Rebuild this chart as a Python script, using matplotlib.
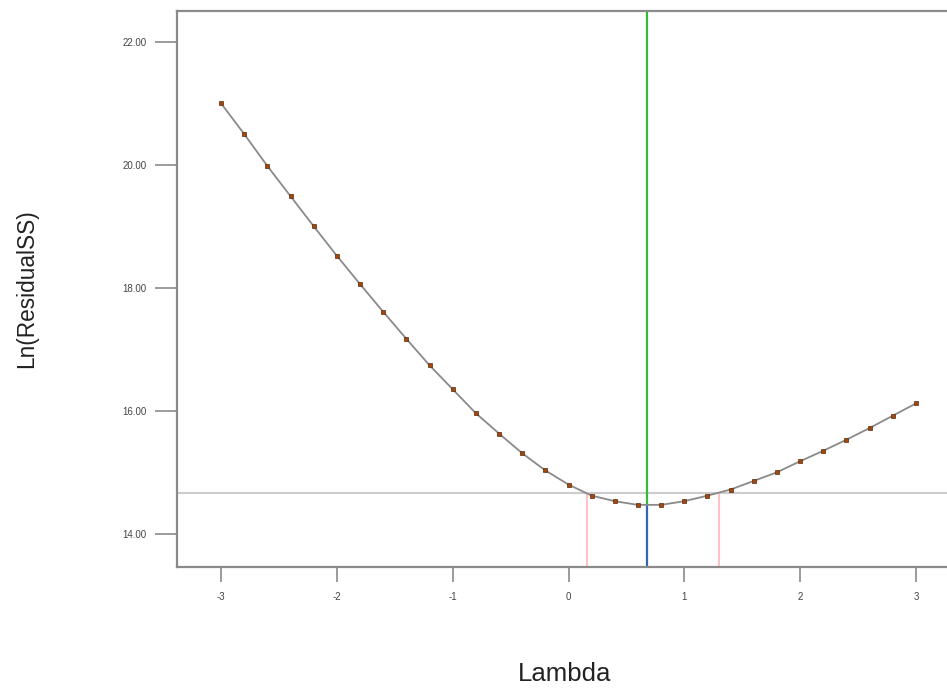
import matplotlib
matplotlib.use("Agg")
import matplotlib.pyplot as plt

# Data
lambdas = [-3.0, -2.8, -2.6, -2.4, -2.2, -2.0, -1.8, -1.6, -1.4, -1.2, -1.0,
           -0.8, -0.6, -0.4, -0.2, 0.0, 0.2, 0.4, 0.6, 0.8, 1.0,
           1.2, 1.4, 1.6, 1.8, 2.0, 2.2, 2.4, 2.6, 2.8, 3.0]
ln_rss = [21.00, 20.50, 19.98, 19.49, 19.00, 18.52, 18.06, 17.61, 17.17, 16.74, 16.35,
          15.96, 15.63, 15.31, 15.03, 14.80, 14.62, 14.53, 14.47, 14.47, 14.53,
          14.62, 14.72, 14.86, 15.00, 15.18, 15.35, 15.53, 15.72, 15.92, 16.12]
best_lambda = 0.68
ci_low, ci_high = 0.16, 1.30
ci_level = 14.67
min_level = 14.47
x_ticks = [-3, -2, -1, 0, 1, 2, 3]
y_ticks = [14, 16, 18, 20, 22]

plt.rcParams['font.family'] = ['Liberation Sans', 'DejaVu Sans']

fig = plt.figure(figsize=(9.47, 6.89), dpi=100)
ax = fig.add_axes([177/947, 1 - 567/689, (960 - 177)/947, (567 - 11)/689])

ax.set_xlim(-3.38, 3.38)
ax.set_ylim(13.46, 22.50)

ax.axhline(ci_level, color='#cccccc', lw=1.5, zorder=1)
ax.plot([ci_low, ci_low], [13.46, ci_level], color='#ffc0c8', lw=1.5, zorder=1)
ax.plot([ci_high, ci_high], [13.46, ci_level], color='#ffc0c8', lw=1.5, zorder=1)
ax.plot([best_lambda, best_lambda], [min_level, 22.5], color='#33bb33', lw=1.6, zorder=2)
ax.plot([best_lambda, best_lambda], [13.46, min_level], color='#3366bb', lw=1.6, zorder=2)

ax.plot(lambdas, ln_rss, color='#8a8a8a', lw=1.3, zorder=3,
        marker='s', markersize=3.0, markerfacecolor='#a0480f',
        markeredgecolor='#5a2a0a', markeredgewidth=0.5)

for s in ['left', 'bottom', 'top']:
    ax.spines[s].set_color('#8a8a8a')
    ax.spines[s].set_linewidth(1.6)
ax.spines['right'].set_visible(False)

ax.set_xticks(x_ticks)
ax.set_xticklabels([str(v) for v in x_ticks])
ax.set_yticks(y_ticks)
ax.set_yticklabels([f"{v:.2f}" for v in y_ticks])
ax.tick_params(axis='x', length=11, width=1.2, color='#8a8a8a', pad=7,
               labelsize=7, labelcolor='#444444')
ax.tick_params(axis='y', length=16, width=1.2, color='#8a8a8a', pad=6,
               labelsize=7, labelcolor='#444444')

fig.text(565/947, 1 - 674/689, 'Lambda', ha='center', va='center', fontsize=18.5, color='#222222')
fig.text(27/947, 1 - 289/689, 'Ln(ResidualSS)', ha='center', va='center',
         rotation=90, fontsize=16.3, color='#222222')

fig.savefig('out.png', dpi=100)
